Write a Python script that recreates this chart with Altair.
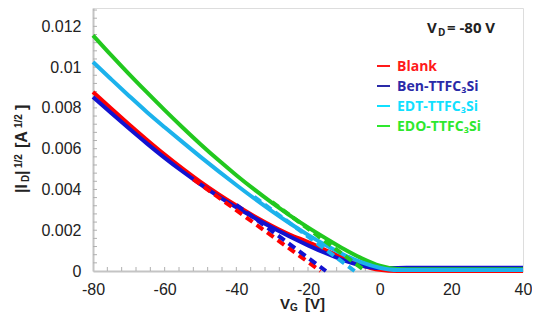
import altair as alt
import pandas as pd

# ---- data ----
VG = [-80, -75, -70, -65, -60, -55, -50, -45, -40, -35, -30, -25, -20, -15,
      -10, -5, 0, 5, 10, 15, 20, 25, 30, 35, 40]
blank = [0.00878, 0.00798, 0.0072, 0.00644, 0.00571, 0.00502, 0.00437, 0.00377,
         0.00321, 0.00269, 0.00221, 0.00178, 0.00142, 0.00102, 0.00064, 0.00028,
         0.00006, 0.0, 0.0, 0.0, 0.0, 0.0, 0.0, 0.0, 0.0]
ben = [0.00854, 0.00776, 0.0070, 0.00626, 0.00555, 0.00488, 0.00425, 0.00366,
       0.00312, 0.00261, 0.00213, 0.00168, 0.00126, 0.00087, 0.00052, 0.00026,
       0.00015, 0.00015, 0.00016, 0.00016, 0.00016, 0.00016, 0.00016, 0.00016, 0.00016]
edt = [0.01025, 0.00942, 0.0086, 0.0078, 0.00705, 0.00632, 0.0056, 0.0049,
       0.00422, 0.00356, 0.00293, 0.00233, 0.00177, 0.00126, 0.0008, 0.00042,
       0.00016, 0.00005, 0.00005, 0.00005, 0.00005, 0.00005, 0.00005, 0.00005, 0.00005]
edo = [0.01156, 0.0106, 0.00967, 0.00877, 0.00789, 0.00704, 0.00622, 0.00544,
       0.0047, 0.0040, 0.00334, 0.00272, 0.00214, 0.0016, 0.00108, 0.00062,
       0.00026, 0.0001, 0.00008, 0.00008, 0.00008, 0.00008, 0.00008, 0.00008, 0.00008]

# linear fits (dashed): start/end gate voltage and value
fit_blank_x = [-52, -16.5]
fit_blank_y = [0.0045, 0.0]
fit_ben_x = [-40, -15]
fit_ben_y = [0.00325, 0.0]
fit_edt_x = [-35, -7]
fit_edt_y = [0.00364, 0.0]
fit_edo_x = [-30, -4]
fit_edo_y = [0.00338, 0.0]

series = ["Blank", "Ben", "EDT", "EDO"]
line_colors = ["#ff0000", "#1212d0", "#1cb2ec", "#22c81e"]
text_colors = ["#ff1a1a", "#2a2aa8", "#10e0ff", "#2ee82e"]
legend_labels = ["Blank", "Ben-TTFC₃Si", "EDT-TTFC₃Si", "EDO-TTFC₃Si"]

x_ticks = [-80, -60, -40, -20, 0, 20, 40]
y_ticks = [0, 0.002, 0.004, 0.006, 0.008, 0.01, 0.012]
x_minor = list(range(-76, 40, 4))
y_minor = [i * 0.0004 for i in range(1, 33)]

W, H = 430, 263
LABEL_FONT = "Liberation Sans"
FONT = "Open Sans"

solid = pd.concat([
    pd.DataFrame({"VG": VG, "v": vals, "s": name})
    for name, vals in zip(series, [blank, ben, edt, edo])
])
fits = pd.concat([
    pd.DataFrame({"VG": fx, "v": fy, "s": name})
    for name, fx, fy in zip(series,
                            [fit_blank_x, fit_ben_x, fit_edt_x, fit_edo_x],
                            [fit_blank_y, fit_ben_y, fit_edt_y, fit_edo_y])
])

xs = alt.Scale(domain=[-80, 40], nice=False)
ys = alt.Scale(domain=[0, 0.0129], nice=False, zero=False)
cs = alt.Scale(domain=series, range=line_colors)

xenc = alt.X("VG:Q", scale=xs, axis=alt.Axis(
    values=x_ticks, labelExpr="'' + datum.value", ticks=False, grid=False,
    labelFlush=False, labelOverlap=False,
    labelPadding=10, labelFontSize=16, labelFont=LABEL_FONT, labelColor="#222",
    domainColor="#c4c4c4", domainWidth=2, title=None))
yenc = alt.Y("v:Q", scale=ys, axis=alt.Axis(
    values=y_ticks, format="~g", ticks=False, grid=False,
    labelFlush=False, labelOverlap=False,
    labelPadding=12, labelFontSize=16, labelFont=LABEL_FONT, labelColor="#222",
    domainColor="#c4c4c4", domainWidth=2, title=None))

order_solid = ["Blank", "Ben", "EDO", "EDT"]
solid_layers = [
    alt.Chart(solid[solid.s == n]).mark_line(strokeWidth=4, interpolate="monotone").encode(
        x=xenc, y=yenc, color=alt.Color("s:N", scale=cs, legend=None))
    for n in order_solid
]
fit_layer = alt.Chart(fits).mark_line(strokeWidth=4, strokeDash=[8, 5]).encode(
    x=alt.X("VG:Q", scale=xs), y=alt.Y("v:Q", scale=ys),
    color=alt.Color("s:N", scale=cs, legend=None), detail="s:N")

xminor = alt.Chart(pd.DataFrame({"t": x_minor})).mark_rule(color="#b0b0b0", strokeWidth=1).encode(
    x=alt.X("t:Q", scale=xs), y=alt.value(H), y2=alt.value(H - 4))
yminor = alt.Chart(pd.DataFrame({"t": y_minor})).mark_rule(color="#b0b0b0", strokeWidth=1).encode(
    y=alt.Y("t:Q", scale=ys), x=alt.value(0), x2=alt.value(4))

one = pd.DataFrame({"a": [0]})


def txt(s, x, y, size, color="#222", angle=0, font=FONT, weight="bold"):
    return alt.Chart(one).mark_text(
        text=s, align="left", baseline="alphabetic", fontSize=size, font=font,
        fontWeight=weight, color=color, angle=angle).encode(
        x=alt.value(x), y=alt.value(y))


texts = []
# legend
for i, (lab, col) in enumerate(zip(legend_labels, text_colors)):
    yc = 58 + 20 * i
    texts.append(alt.Chart(one).mark_rule(color=col, strokeWidth=2).encode(
        x=alt.value(284), x2=alt.value(297), y=alt.value(yc)))
    texts.append(txt(lab, 304, yc + 5, 14, color=col))
# V_D annotation
texts += [txt("V", 334, 25, 15), txt("D", 345, 28, 10), txt("= -80 V", 354, 25, 15)]
# x title
texts += [txt("V", 187, 301, 15, font=LABEL_FONT), txt("G", 197, 303, 10, font=LABEL_FONT),
          txt("[V]", 212, 301, 15, font=LABEL_FONT)]
# y title (rotated)
texts += [
    txt("|I", -66, 185, 16, angle=270, font=LABEL_FONT),
    txt("D", -64, 174, 10, angle=270, font=LABEL_FONT),
    txt("|", -66, 167, 16, angle=270, font=LABEL_FONT),
    txt("1/2", -71, 160, 10, angle=270, font=LABEL_FONT),
    txt("[A", -66, 140, 16, angle=270, font=LABEL_FONT),
    txt("1/2", -71, 120, 10, angle=270, font=LABEL_FONT),
    txt("]", -66, 102, 16, angle=270, font=LABEL_FONT),
]

chart = alt.layer(xminor, yminor, *solid_layers, fit_layer, *texts).properties(
    width=W, height=H,
    autosize=alt.AutoSizeParams(type="none"),
    padding={"left": 85, "top": 0, "right": 9, "bottom": 41},
).configure_view(stroke="#c8c8c8", strokeWidth=1.5).configure(background="white")

chart.save("out.html", embed_options={"renderer": "svg", "actions": False})
